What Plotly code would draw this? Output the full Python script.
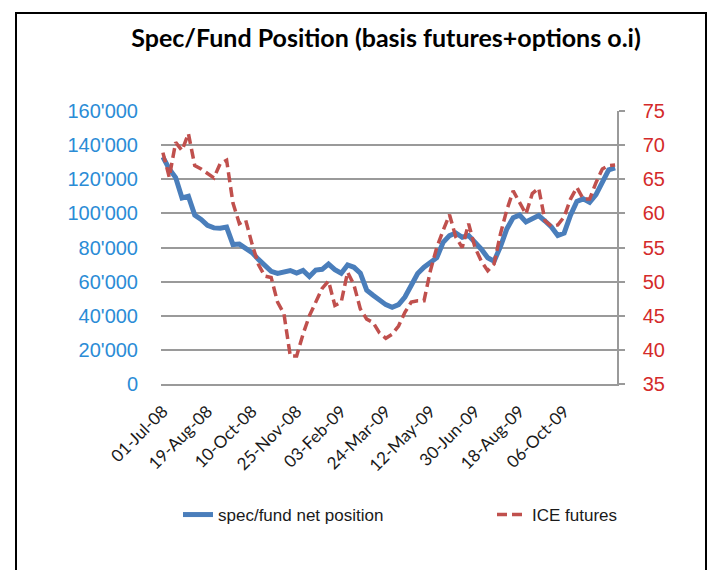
import plotly.graph_objects as go

# ---- data ----
week_index = list(range(72))
tick_positions = [0, 7, 14, 21, 28, 35, 42, 49, 56, 63]
tick_labels = ["01-Jul-08", "19-Aug-08", "10-Oct-08", "25-Nov-08", "03-Feb-09",
               "24-Mar-09", "12-May-09", "30-Jun-09", "18-Aug-09", "06-Oct-09"]

spec_fund_net = [
    133000, 126000, 121000, 109000, 110000, 99000, 96500, 93000, 91500, 91300,
    92000, 81700, 82000, 79500, 77000, 73000, 69400, 66000, 64800, 65500,
    66500, 65000, 66500, 63000, 66800, 67200, 70300, 67000, 64900, 69800,
    68400, 65000, 55000, 52000, 49000, 46500, 45000, 46500, 51000, 57700,
    64800, 68500, 71500, 74000, 83000, 87000, 88500, 86000, 87000, 83500,
    79000, 74000, 72000, 80500, 90900, 97500, 99000, 95000, 97000, 98700,
    95500, 92000, 87000, 88500, 99000, 107000, 108500, 106500, 111000, 118000,
    125500, 126700,
]

ice_futures = [
    68.9, 65.3, 70.4, 69.2, 71.7, 67.0, 66.5, 65.8, 65.2, 67.3,
    67.8, 61.5, 58.5, 59.0, 55.5, 52.5, 50.8, 50.6, 47.0, 45.3,
    39.1, 39.1, 42.3, 45.0, 47.0, 49.0, 50.1, 46.5, 47.0, 51.4,
    49.5, 46.0, 44.5, 44.0, 42.5, 41.7, 42.3, 43.5, 45.5, 47.0,
    47.2, 47.2, 51.6, 55.0, 57.5, 59.8, 56.5, 55.0, 58.5, 55.0,
    53.0, 51.6, 52.6, 57.0, 60.5, 63.3, 61.6, 59.9, 62.9, 63.7,
    58.9, 58.1, 58.3, 59.5, 62.1, 63.8, 62.1, 62.1, 64.5, 66.5,
    67.0, 67.1,
]

BLUE = "#4a7ebb"
RED = "#c0504d"
GRID = "#9a9a9a"

fig = go.Figure()
fig.add_trace(go.Scatter(
    x=week_index, y=spec_fund_net, mode="lines", name="spec/fund net position",
    line=dict(color=BLUE, width=5), yaxis="y", legend="legend",
))
fig.add_trace(go.Scatter(
    x=week_index, y=ice_futures, mode="lines", name="ICE futures",
    line=dict(color=RED, width=3.5, dash="10px,5px"), yaxis="y2", legend="legend2",
))

OFF = 8  # page body margin offset
W, H = 717, 570
L = 161 - OFF
T = 111 - OFF
pw = 456
ph = 273
R = W - L - pw
B = H - T - ph


def px_x(x):
    return (x - OFF - L) / pw


def px_y(y):
    return (H - B - (y - OFF)) / ph


legend_font = dict(family="Liberation Sans", size=17, color="#1a1a1a")

fig.update_layout(
    width=W, height=H,
    margin=dict(l=L, r=R, t=T, b=B, autoexpand=False),
    paper_bgcolor="white", plot_bgcolor="white",
    separators=".'",
    showlegend=True,
    title=dict(
        text="<b>Spec/Fund Position (basis futures+options o.i)</b>",
        x=(386 - OFF) / W, xanchor="center", y=1 - (38 - OFF) / H, yanchor="middle",
        font=dict(family="Lato", size=25, color="black"),
    ),
    xaxis=dict(
        range=[-0.3, 71.3], tickmode="array", tickvals=tick_positions, ticktext=tick_labels,
        tickangle=-45, showgrid=False, zeroline=False, showline=True,
        linecolor=GRID, linewidth=1.5, ticks="", ticklabelstandoff=9,
        tickfont=dict(family="Lato", size=17, color="#1a1a1a"),
    ),
    yaxis=dict(
        range=[0, 160000], dtick=20000, tickformat=",d", showgrid=True,
        gridcolor=GRID, gridwidth=1.5, zeroline=False, showline=False,
        ticks="", ticklabelstandoff=22,
        tickfont=dict(family="Liberation Sans", size=20, color="#2b8cd6"),
    ),
    yaxis2=dict(
        range=[35, 75], dtick=5, overlaying="y", side="right", showgrid=False,
        zeroline=False, showline=True, linecolor=GRID, linewidth=1.5,
        ticks="outside", ticklen=6, tickcolor=GRID, tickwidth=1.5,
        ticklabelstandoff=14,
        tickfont=dict(family="Liberation Sans", size=20, color="#d42a2a"),
    ),
    legend=dict(
        orientation="h", x=px_x(178), xanchor="left",
        y=px_y(515), yanchor="middle",
        font=legend_font, bgcolor="rgba(0,0,0,0)",
    ),
    legend2=dict(
        orientation="h", x=px_x(492), xanchor="left",
        y=px_y(515), yanchor="middle",
        font=legend_font, bgcolor="rgba(0,0,0,0)",
    ),
    shapes=[
        dict(type="rect", xref="paper", yref="paper",
             x0=px_x(16), x1=px_x(706),
             y0=px_y(700), y1=px_y(13),
             line=dict(color="black", width=2), fillcolor="rgba(0,0,0,0)", layer="below"),
    ],
)

fig.write_html("out.html")
